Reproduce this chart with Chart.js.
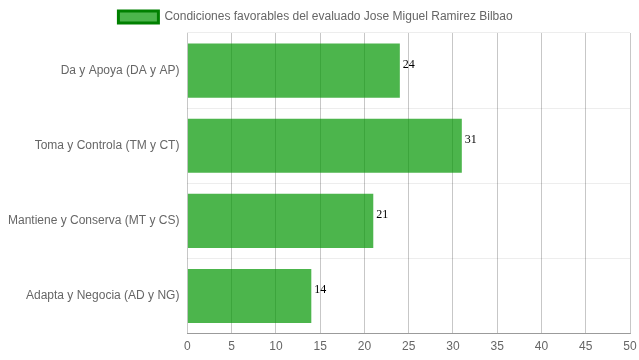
<!DOCTYPE html>
<html><head><meta charset="utf-8">
<script src="https://cdn.jsdelivr.net/npm/chart.js@4/dist/chart.umd.min.js"></script>
<style>html,body{margin:0;padding:0;background:#fff}#wrap{width:639px;height:360px}</style>
</head><body><div id="wrap"><canvas id="c"></canvas></div>
<script>
const categories = ["Da y Apoya (DA y AP)", "Toma y Controla (TM y CT)", "Mantiene y Conserva (MT y CS)", "Adapta y Negocia (AD y NG)"];
const values = [24, 31, 21, 14];
const seriesName = "Condiciones favorables del evaluado Jose Miguel Ramirez Bilbao";
const xTicks = [0, 5, 10, 15, 20, 25, 30, 35, 40, 45, 50];

const valueLabels = {
  id: 'valueLabels',
  afterLayout(chart) {
    if (chart.legend) { chart.legend.left -= 4; chart.legend.right -= 4; }
  },
  afterDatasetsDraw(chart) {
    const ctx = chart.ctx;
    const meta = chart.getDatasetMeta(0);
    ctx.save();
    ctx.font = '12px "Liberation Serif", "Times New Roman", serif';
    ctx.fillStyle = '#000';
    ctx.textAlign = 'left';
    ctx.textBaseline = 'middle';
    meta.data.forEach((bar, i) => {
      ctx.fillText(String(values[i]), bar.x + 3, bar.y - 6);
    });
    ctx.restore();
  }
};

new Chart(document.getElementById('c'), {
  type: 'bar',
  data: {
    labels: categories,
    datasets: [{
      label: seriesName,
      data: values,
      backgroundColor: 'rgba(0,150,0,0.7)',
      borderColor: 'rgba(0,128,0,1)',
      borderWidth: 0,
      barPercentage: 0.9,
      categoryPercentage: 0.8
    }]
  },
  options: {
    indexAxis: 'y',
    responsive: true,
    maintainAspectRatio: false,
    animation: false,
    layout: { padding: { left: 0, right: 0, top: 1, bottom: 0 } },
    plugins: {
      legend: {
        display: true,
        labels: {
          boxWidth: 40, boxHeight: 12,
          color: '#666',
          font: { family: '"Liberation Sans", Arial, sans-serif', size: 12 },
          padding: 10,
          generateLabels(chart) {
            return [{
              text: seriesName,
              fillStyle: 'rgba(0,150,0,0.7)',
              strokeStyle: 'rgba(0,128,0,1)',
              lineWidth: 3,
              fontColor: '#666',
              datasetIndex: 0
            }];
          }
        }
      },
      tooltip: { enabled: false }
    },
    scales: {
      x: {
        min: 0, max: 50,
        afterBuildTicks(scale) { scale.ticks = xTicks.map(v => ({ value: v })); },
        afterFit(scale) { scale.paddingRight = 9; },
        grid: { color: 'rgba(0,0,0,0.22)', drawTicks: false },
        border: { color: 'rgba(0,0,0,0.35)' },
        ticks: { color: '#666', padding: 6, font: { family: '"Liberation Sans", Arial, sans-serif', size: 12 } }
      },
      y: {
        grid: { color: 'rgba(0,0,0,0.07)', drawTicks: false, offset: true },
        border: { display: false },
        ticks: { color: '#666', padding: 8, font: { family: '"Liberation Sans", Arial, sans-serif', size: 12 } }
      }
    }
  },
  plugins: [valueLabels]
});
</script>
</body></html>
